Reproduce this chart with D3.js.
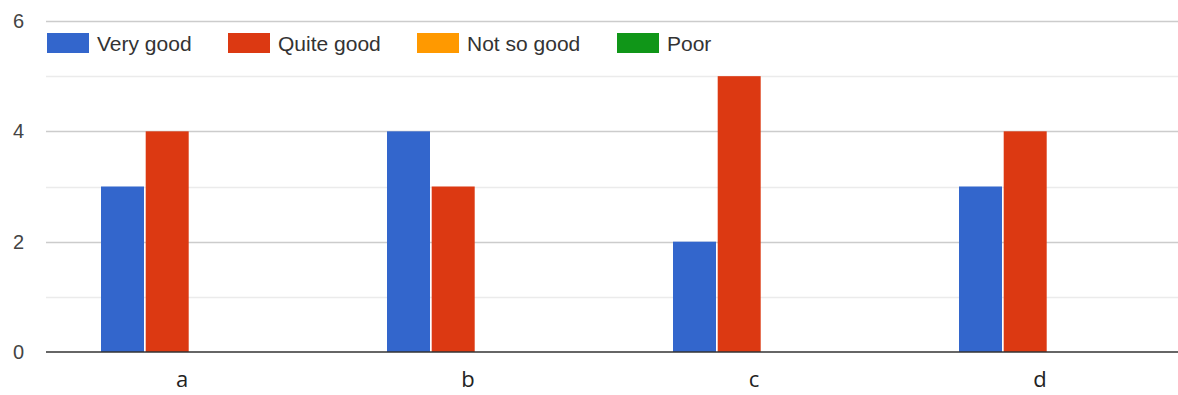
<!DOCTYPE html>
<html>
<head>
<meta charset="utf-8">
<script src="https://cdn.jsdelivr.net/npm/d3@7"></script>
<style>
  html, body { margin: 0; padding: 0; background: #fff; }
  svg { display: block; }
</style>
</head>
<body>
<svg id="chart" width="1178" height="395"></svg>
<script>
// Survey answers per item
const categories = ["a", "b", "c", "d"];
const seriesNames = ["Very good", "Quite good", "Not so good", "Poor"];
const veryGood   = [3, 4, 2, 3];
const quiteGood  = [4, 3, 5, 4];
const notSoGood  = [0, 0, 0, 0];
const poor       = [0, 0, 0, 0];
const yTicks = [0, 2, 4, 6];
const colors = ["#3366cc", "#dc3912", "#ff9900", "#109618"];

const seriesValues = [veryGood, quiteGood, notSoGood, poor];
const rows = categories.map((c, i) => ({
  cat: c,
  values: seriesNames.map((s, j) => ({ series: s, value: seriesValues[j][i] }))
}));

const svg = d3.select("#chart");
const plotLeft = 46, plotRight = 1178;
const y = d3.scaleLinear().domain([0, 6]).range([352, 21]);

const x0 = d3.scaleBand().domain(categories).range([39, 1183]).paddingInner(0).paddingOuter(0);
const x1 = d3.scaleBand().domain(seriesNames).range([62, 62 + 4 * 44.7]);
const color = d3.scaleOrdinal().domain(seriesNames).range(colors);

// gridlines: labelled majors and unlabelled minors
const grid = svg.append("g");
d3.range(1, 7).forEach(v => {
  grid.append("line")
    .attr("x1", plotLeft).attr("x2", plotRight)
    .attr("y1", Math.round(y(v)) + 0.5).attr("y2", Math.round(y(v)) + 0.5)
    .attr("stroke", v % 2 === 0 ? "#cccccc" : "#ebebeb")
    .attr("stroke-width", 1.5);
});

// y-axis labels
svg.append("g").selectAll("text").data(yTicks).join("text")
  .attr("x", 24).attr("y", d => y(d))
  .attr("text-anchor", "end")
  .attr("dominant-baseline", "central")
  .attr("font-family", "Liberation Sans, Arial, sans-serif")
  .attr("font-size", 20)
  .attr("fill", "#444")
  .text(d => d);

// bars
const groups = svg.append("g").selectAll("g").data(rows).join("g")
  .attr("transform", d => `translate(${x0(d.cat)},0)`);
groups.selectAll("rect").data(d => d.values.filter(v => v.value > 0)).join("rect")
  .attr("x", d => x1(d.series))
  .attr("width", x1.bandwidth() - 1.7)
  .attr("y", d => y(d.value))
  .attr("height", d => y(0) - y(d.value))
  .attr("fill", d => color(d.series));

// baseline
svg.append("line")
  .attr("x1", plotLeft).attr("x2", plotRight)
  .attr("y1", y(0)).attr("y2", y(0))
  .attr("stroke", "#333").attr("stroke-width", 1.5);

// category labels
svg.append("g").selectAll("text").data(categories).join("text")
  .attr("x", d => x0(d) + x0.bandwidth() / 2)
  .attr("y", 387)
  .attr("text-anchor", "middle")
  .attr("font-family", "Open Sans, sans-serif")
  .attr("font-size", 22)
  .attr("fill", "#222")
  .text(d => d);

// legend
const legendX = [47, 228, 417, 617];
const legend = svg.append("g").selectAll("g").data(seriesNames).join("g")
  .attr("transform", (d, i) => `translate(${legendX[i]},33)`);
legend.append("rect")
  .attr("width", 42).attr("height", 20)
  .attr("fill", d => color(d));
legend.append("text")
  .attr("x", 50).attr("y", 10)
  .attr("dominant-baseline", "central")
  .attr("font-family", "Liberation Sans, Arial, sans-serif")
  .attr("font-size", 21)
  .attr("fill", "#333")
  .text(d => d);
</script>
</body>
</html>
